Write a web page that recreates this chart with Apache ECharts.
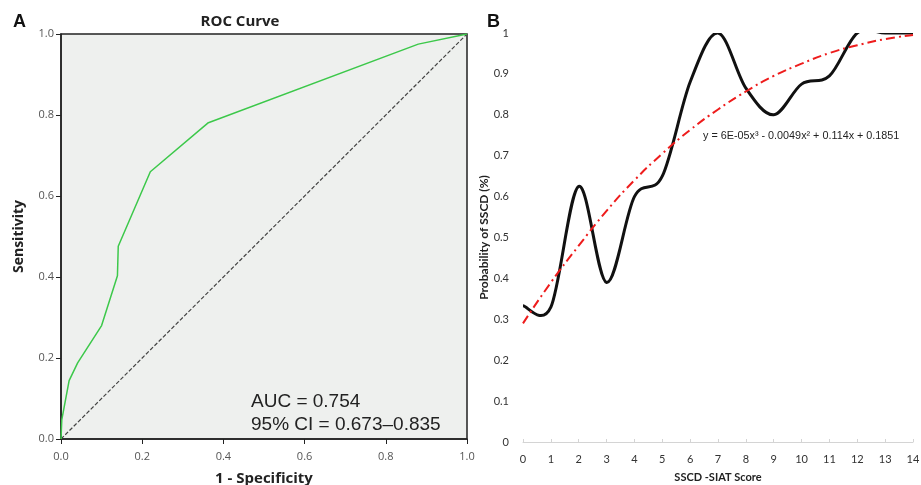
<!DOCTYPE html>
<html>
<head>
<meta charset="utf-8">
<script src="https://cdn.jsdelivr.net/npm/echarts@6/dist/echarts.min.js"></script>
<style>
    html, body { margin: 0; padding: 0; background: #fff; }
    #chart { width: 921px; height: 485px; }
</style>
</head>
<body>
<div id="chart"></div>
<script>
    // panel A: ROC curve points (1 - specificity, sensitivity)
    let roc_fpr = [0, 0.002, 0.02, 0.041, 0.1, 0.139, 0.141, 0.22, 0.363, 0.88, 1];
    let roc_tpr = [0, 0.048, 0.144, 0.188, 0.28, 0.403, 0.476, 0.66, 0.781, 0.975, 1];
    let ref_line = [[0, 0], [1, 1]];

    // panel B: probability of SSCD by SSCD-SIAT score
    let scores = [0, 1, 2, 3, 4, 5, 6, 7, 8, 9, 10, 11, 12, 13, 14];
    let prob_obs = [0.333, 0.33, 0.625, 0.39, 0.6, 0.65, 0.88, 1.0, 0.865, 0.8, 0.875, 0.895, 1.0, 1.0, 1.0];
    let prob_fit = [0.29, 0.39, 0.48, 0.565, 0.64, 0.705, 0.763, 0.813, 0.857, 0.895, 0.925, 0.951, 0.97, 0.985, 0.995];

    let auc_text = 'AUC = 0.754\n95% CI = 0.673\u20130.835';
    let fit_text = 'y = 6E-05x\u00b3 - 0.0049x\u00b2 + 0.114x + 0.1851';

    let roc_data = roc_fpr.map(function (x, i) { return [x, roc_tpr[i]]; });
    let obs_data = scores.map(function (x, i) { return [x, prob_obs[i]]; });
    let fit_data = scores.map(function (x, i) { return [x, prob_fit[i]]; });

    // spreadsheet-style smoothed line (catmull-rom through the points)
    function smooth_path(params, api) {
        if (params.dataIndex !== 0) return null;
        let p = obs_data.map(function (d) { return api.coord(d); });
        let path = 'M' + p[0][0] + ' ' + p[0][1];
        for (let i = 0; i < p.length - 1; i++) {
            let p0 = p[Math.max(i - 1, 0)], p1 = p[i], p2 = p[i + 1], p3 = p[Math.min(i + 2, p.length - 1)];
            let c1x = p1[0] + (p2[0] - p0[0]) / 6, c1y = p1[1] + (p2[1] - p0[1]) / 6;
            let c2x = p2[0] - (p3[0] - p1[0]) / 6, c2y = p2[1] - (p3[1] - p1[1]) / 6;
            path += ' C' + c1x + ' ' + c1y + ' ' + c2x + ' ' + c2y + ' ' + p2[0] + ' ' + p2[1];
        }
        return {
            type: 'path',
            shape: { pathData: path },
            style: { fill: 'none', stroke: '#111', lineWidth: 3 }
        };
    }

    let chart = echarts.init(document.getElementById('chart'));

    chart.setOption({
        animation: false,
        title: [
            {
                text: 'ROC Curve', left: 235, top: 9, textAlign: 'center',
                textStyle: { fontFamily: 'Open Sans', fontWeight: 'bold', fontSize: 15, color: '#222' }
            }
        ],
        grid: [
            {
                left: 61, top: 34, width: 406, height: 405, outerBoundsMode: 'none',
                show: true, backgroundColor: '#eef0ee', borderColor: '#222', borderWidth: 1.5
            },
            { left: 523, top: 33, right: 8, bottom: 43, outerBoundsMode: 'none' }
        ],
        xAxis: [
            {
                gridIndex: 0, type: 'value', min: 0, max: 1, interval: 0.2,
                name: '1 - Specificity', nameLocation: 'middle', nameGap: 32,
                nameTextStyle: { fontFamily: 'Open Sans', fontWeight: 'bold', fontSize: 15, color: '#222' },
                axisLine: { lineStyle: { color: '#222', width: 1.5 } },
                axisTick: { length: 5, lineStyle: { color: '#222' } },
                axisLabel: {
                    fontFamily: 'Open Sans', fontSize: 11, color: '#555', margin: 12,
                    formatter: function (v) { return v.toFixed(1); }
                },
                splitLine: { show: false }
            },
            {
                gridIndex: 1, type: 'value', min: 0, max: 14, interval: 1,
                name: 'SSCD -SIAT Score', nameLocation: 'middle', nameGap: 30,
                nameTextStyle: { fontFamily: 'Lato', fontWeight: 'bold', fontSize: 11, color: '#222' },
                axisLine: { lineStyle: { color: '#d4d4d4', width: 1 } },
                axisTick: { inside: true, length: 3, lineStyle: { color: '#d4d4d4' } },
                axisLabel: { fontFamily: 'Lato', fontSize: 11, color: '#333', margin: 12 },
                splitLine: { show: false }
            }
        ],
        yAxis: [
            {
                gridIndex: 0, type: 'value', min: 0, max: 1, interval: 0.2,
                name: 'Sensitivity', nameLocation: 'middle', nameGap: 35,
                nameTextStyle: { fontFamily: 'Open Sans', fontWeight: 'bold', fontSize: 14, color: '#222' },
                axisLine: { show: true, lineStyle: { color: '#222', width: 1.5 } },
                axisTick: { show: true, length: 5, lineStyle: { color: '#222' } },
                axisLabel: {
                    fontFamily: 'Open Sans', fontSize: 11, color: '#555', margin: 7,
                    formatter: function (v) { return v.toFixed(1); }
                },
                splitLine: { show: false }
            },
            {
                gridIndex: 1, type: 'value', min: 0, max: 1, interval: 0.1,
                name: 'Probability of SSCD (%)', nameLocation: 'middle', nameGap: 29,
                nameTextStyle: { fontFamily: 'Lato', fontWeight: 'bold', fontSize: 12, color: '#222' },
                axisLine: { show: false },
                axisTick: { show: false },
                axisLabel: {
                    fontFamily: 'Lato', fontSize: 11, color: '#333', margin: 14,
                    formatter: function (v) { return String(Math.round(v * 10) / 10); }
                },
                splitLine: { show: false }
            }
        ],
        graphic: [
            {
                type: 'text', left: 13, top: 13,
                style: { text: 'A', fontFamily: 'Liberation Sans', fontWeight: 'bold', fontSize: 18, fill: '#111' }
            },
            {
                type: 'text', left: 487, top: 13,
                style: { text: 'B', fontFamily: 'Liberation Sans', fontWeight: 'bold', fontSize: 18, fill: '#111' }
            },
            {
                type: 'text', left: 251, top: 390,
                style: { text: auc_text, fontFamily: 'Liberation Sans', fontSize: 19, lineHeight: 23, fill: '#222' }
            },
            {
                type: 'text', left: 703, top: 131,
                style: { text: fit_text, fontFamily: 'Liberation Sans', fontSize: 10.8, fill: '#222' }
            }
        ],
        series: [
            {
                type: 'line', xAxisIndex: 0, yAxisIndex: 0,
                data: ref_line, symbol: 'none',
                lineStyle: { color: '#444', width: 1.2, type: [4, 2] }
            },
            {
                type: 'line', xAxisIndex: 0, yAxisIndex: 0,
                data: roc_data, symbol: 'none',
                lineStyle: { color: '#3cc84a', width: 1.5 }
            },
            {
                type: 'custom', xAxisIndex: 1, yAxisIndex: 1,
                data: obs_data, clip: true,
                renderItem: smooth_path
            },
            {
                type: 'line', xAxisIndex: 1, yAxisIndex: 1,
                data: fit_data, symbol: 'none', smooth: true,
                lineStyle: { color: '#ee1c1c', width: 2, type: [9, 4, 2, 4] }
            }
        ]
    });
</script>
</body>
</html>
